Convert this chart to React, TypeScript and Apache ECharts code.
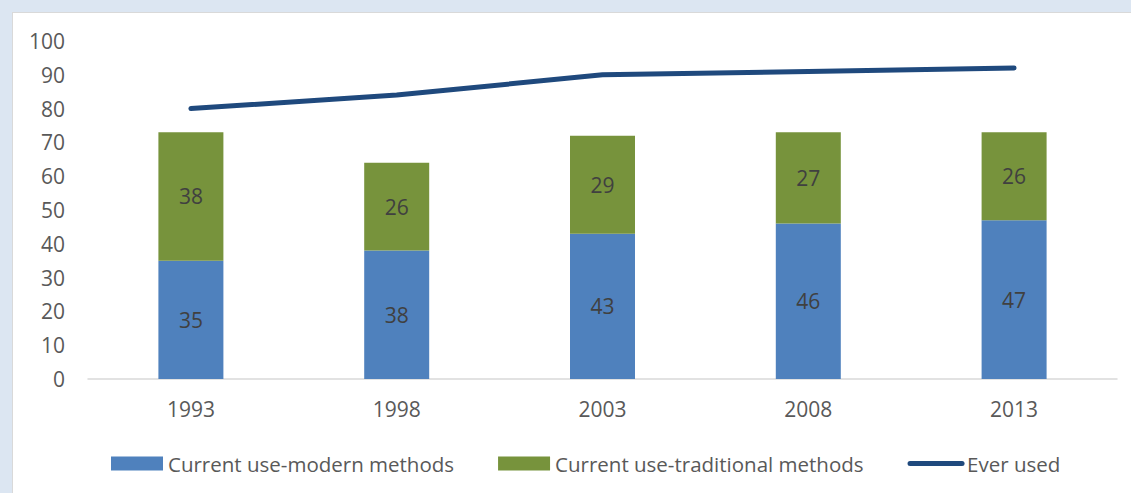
import React, { useEffect, useRef } from "react";
import * as echarts from "echarts";

const years = ["1993", "1998", "2003", "2008", "2013"];
const modern = [35, 38, 43, 46, 47];
const traditional = [38, 26, 29, 27, 26];
const everUsed = [80, 84, 90, 91, 92];
const yTicks = { min: 0, max: 100, interval: 10 };

const FONT = "'Open Sans', sans-serif";
const TXT = "#595959";
const FS = 21;

export default function App() {
  const ref = useRef<HTMLDivElement>(null);
  useEffect(() => {
    const chart = echarts.init(ref.current!, null, { renderer: "svg" });
    chart.setOption({
      animation: false,
      textStyle: { fontFamily: FONT },
      grid: { left: 75, right: 14, top: 28, bottom: 114, containLabel: false },
      legend: {
        left: 93,
        top: 435,
        itemWidth: 52,
        itemHeight: 14,
        itemGap: 44,
        textStyle: { fontFamily: FONT, fontSize: 20.5, color: TXT },
        data: [
          { name: "Current use-modern methods", icon: "rect" },
          { name: "Current use-traditional methods", icon: "rect" },
          { name: "Ever used", itemStyle: { opacity: 0 }, lineStyle: { width: 5, color: "#1f497d" } },
        ],
      },
      xAxis: {
        type: "category",
        data: years,
        axisLine: { lineStyle: { color: "#d9d9d9", width: 1.5 } },
        axisTick: { show: false },
        axisLabel: { color: TXT, fontSize: FS, fontFamily: FONT, margin: 19 },
      },
      yAxis: {
        type: "value",
        min: yTicks.min,
        max: yTicks.max,
        interval: yTicks.interval,
        splitLine: { show: false },
        axisLine: { show: false },
        axisTick: { show: false },
        axisLabel: { color: TXT, fontSize: FS, fontFamily: FONT, margin: 23 },
      },
      series: [
        {
          name: "Current use-modern methods",
          type: "bar",
          stack: "use",
          data: modern,
          barWidth: 65,
          itemStyle: { color: "#4f81bd" },
          label: { show: true, position: "inside", color: "#404040", fontSize: FS, fontFamily: FONT },
        },
        {
          name: "Current use-traditional methods",
          type: "bar",
          stack: "use",
          data: traditional,
          barWidth: 65,
          itemStyle: { color: "#77933c" },
          label: { show: true, position: "inside", color: "#404040", fontSize: FS, fontFamily: FONT },
        },
        {
          name: "Ever used",
          type: "line",
          data: everUsed,
          symbol: "none",
          lineStyle: { color: "#1f497d", width: 5, cap: "round" },
          itemStyle: { color: "#1f497d" },
        },
      ],
    });
    return () => chart.dispose();
  }, []);
  return (
    <div style={{ position: "fixed", left: 0, top: 0, width: 1131, height: 493, background: "#dce6f2" }}>
      <div
        style={{
          position: "absolute",
          left: 12,
          top: 12,
          width: 1119,
          height: 481,
          background: "#ffffff",
          borderLeft: "1px solid #d9d9d9",
          borderTop: "1px solid #d9d9d9",
          boxSizing: "border-box",
        }}
      >
        <div ref={ref} style={{ width: 1118, height: 480 }} />
      </div>
    </div>
  );
}
